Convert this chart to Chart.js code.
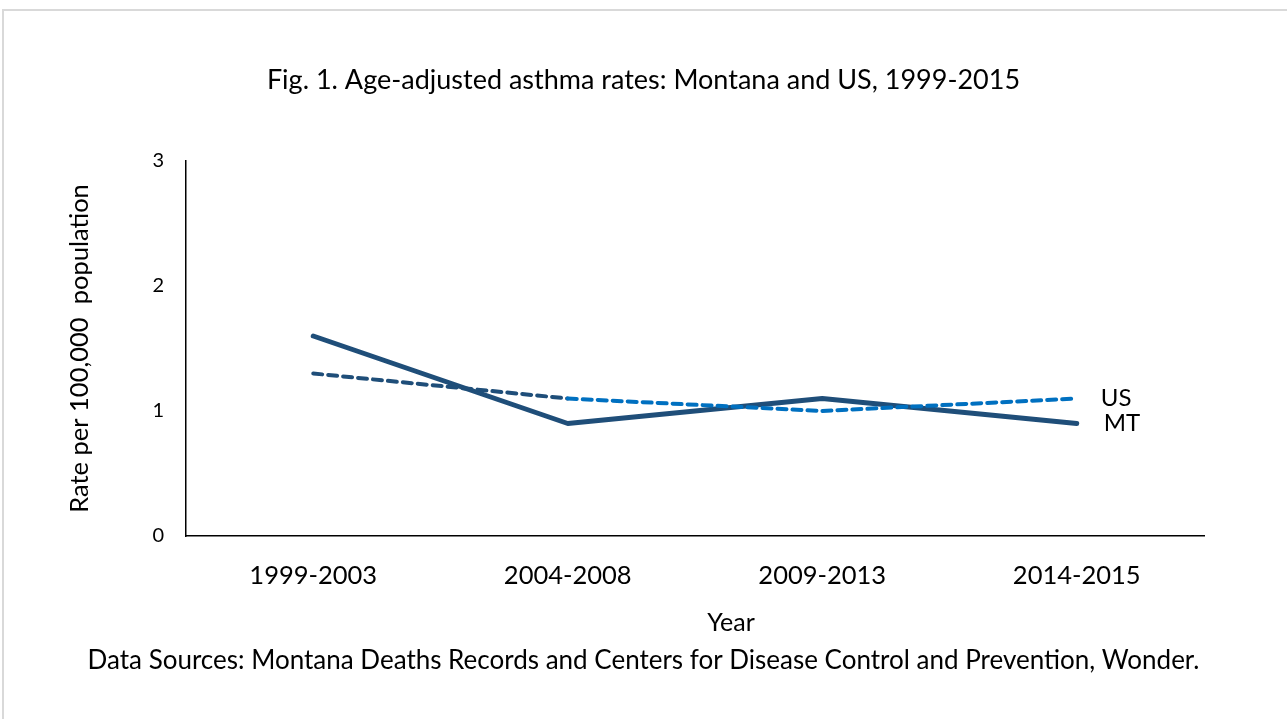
<!DOCTYPE html>
<html>
<head>
<meta charset="utf-8">
<title>Age-adjusted asthma rates: Montana and US, 1999-2015</title>
<script src="https://cdn.jsdelivr.net/npm/chart.js@4"></script>
<style>
  html, body { margin: 0; padding: 0; background: #ffffff; }
  #wrap { position: relative; width: 1287px; height: 719px; }
  canvas { display: block; }
</style>
</head>
<body>
<div id="wrap"><canvas id="chart" width="1287" height="719"></canvas></div>
<script>
// Periods and age-adjusted asthma death rates per 100,000
const periods = ['1999-2003', '2004-2008', '2009-2013', '2014-2015'];
const montanaRates = [1.6, 0.9, 1.1, 0.9];
const usRates = [1.3, 1.1, 1.0, 1.1];
const yTicks = [0, 1, 2, 3];
const xAxisTitle = 'Year';

const FONT = "Lato, 'Liberation Sans', sans-serif";
const NAVY = '#1F4E79';
const BLUE = '#0070C0';

// Light frame around the figure
const framePlugin = {
  id: 'frame',
  beforeDraw(chart) {
    const ctx = chart.ctx;
    ctx.save();
    ctx.fillStyle = '#ffffff';
    ctx.fillRect(0, 0, chart.width, chart.height);
    ctx.strokeStyle = '#d9d9d9';
    ctx.lineWidth = 2;
    ctx.beginPath();
    ctx.moveTo(3, chart.height + 5);
    ctx.lineTo(3, 10);
    ctx.lineTo(chart.width + 5, 10);
    ctx.stroke();
    ctx.restore();
  }
};

// Series names beside each line's last point, plus the x-axis title
const labelPlugin = {
  id: 'endLabels',
  afterDatasetsDraw(chart) {
    const ctx = chart.ctx;
    ctx.save();
    ctx.fillStyle = '#000000';
    ctx.textBaseline = 'middle';
    ctx.font = '24px ' + FONT;
    ctx.textAlign = 'left';
    chart.data.datasets.forEach((ds, i) => {
      const meta = chart.getDatasetMeta(i);
      const pt = meta.data[meta.data.length - 1];
      ctx.fillText(ds.label, pt.x + ds.labelOffset, pt.y);
    });
    const area = chart.chartArea;
    ctx.font = '25px ' + FONT;
    ctx.textAlign = 'center';
    ctx.fillText(xAxisTitle, (area.left + area.right) / 2 + 36, area.bottom + 87);
    ctx.restore();
  }
};

new Chart(document.getElementById('chart'), {
  type: 'line',
  data: {
    labels: periods,
    datasets: [
      {
        label: 'MT',
        data: montanaRates,
        borderColor: NAVY,
        borderWidth: 5,
        borderCapStyle: 'round',
        borderJoinStyle: 'round',
        pointRadius: 0,
        tension: 0,
        labelOffset: 27,
        order: 2
      },
      {
        label: 'US',
        data: usRates,
        borderColor: BLUE,
        borderWidth: 4,
        borderDash: [9, 6],
        borderCapStyle: 'round',
        pointRadius: 0,
        tension: 0,
        labelOffset: 24,
        segment: {
          borderColor: c => (c.p0DataIndex === 0 ? NAVY : BLUE)
        },
        order: 1
      }
    ]
  },
  options: {
    responsive: false,
    animation: false,
    layout: { padding: 0 },
    plugins: {
      legend: { display: false },
      tooltip: { enabled: false },
      title: {
        display: true,
        text: 'Fig. 1. Age-adjusted asthma rates: Montana and US, 1999-2015',
        color: '#000000',
        font: { family: FONT, size: 27, weight: 'normal' },
        padding: { top: 63.8, bottom: 64.8 }
      },
      subtitle: {
        display: true,
        position: 'bottom',
        text: 'Data Sources: Montana Deaths Records and Centers for Disease Control and Prevention, Wonder.',
        color: '#000000',
        font: { family: FONT, size: 26, weight: 'normal' },
        padding: { top: 0, bottom: 42.4 }
      }
    },
    scales: {
      x: {
        type: 'category',
        offset: true,
        grid: { display: false, drawTicks: false },
        border: { display: true, color: '#000000', width: 1.5 },
        ticks: {
          color: '#000000',
          font: { family: FONT, size: 25.5 },
          padding: 24,
          maxRotation: 0
        },
        title: { display: false },
        afterFit(scale) { scale.height = 109.4; }
      },
      y: {
        min: 0,
        max: 3,
        grid: { display: false, drawTicks: false },
        border: { display: true, color: '#000000', width: 1.5 },
        afterBuildTicks(scale) { scale.ticks = yTicks.map(v => ({ value: v })); },
        ticks: {
          color: '#000000',
          font: { family: FONT, size: 20 },
          padding: 22
        },
        title: {
          display: true,
          text: 'Rate per 100,000  population',
          color: '#000000',
          font: { family: FONT, size: 25.5 },
          padding: { top: 64.7, bottom: 0 }
        },
        afterFit(scale) { scale.width = 186; }
      },
      // empty right-hand margin so the plot ends where the axis line stops
      yMargin: {
        position: 'right',
        display: true,
        grid: { display: false, drawTicks: false },
        border: { display: false },
        ticks: { display: false },
        afterFit(scale) { scale.width = 83; }
      }
    }
  },
  plugins: [framePlugin, labelPlugin]
});
</script>
</body>
</html>
